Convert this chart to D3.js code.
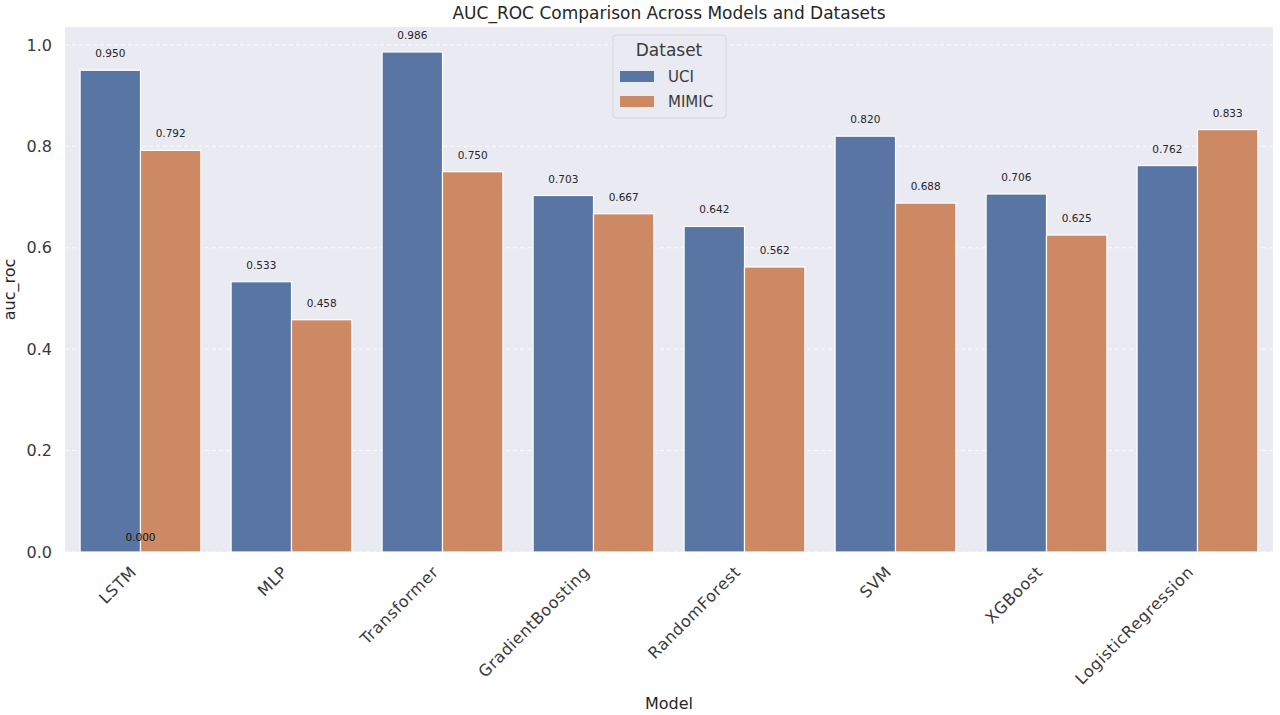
<!DOCTYPE html>
<html><head><meta charset="utf-8">
<script src="https://cdn.jsdelivr.net/npm/d3@7"></script>
<style>body{margin:0;background:#fff;font-family:"DejaVu Sans",sans-serif;}</style>
</head><body><svg id="c" width="1280" height="715"></svg>
<script>
const models = ["LSTM","MLP","Transformer","GradientBoosting","RandomForest","SVM","XGBoost","LogisticRegression"];
const datasets = ["UCI","MIMIC"];
const uciValues = [0.950,0.533,0.986,0.703,0.642,0.820,0.706,0.762];
const mimicValues = [0.792,0.458,0.750,0.667,0.562,0.688,0.625,0.833];
const yTicks = [0.0,0.2,0.4,0.6,0.8,1.0];
const strayLabels = [{model:"LSTM", value:0.000}];
const colors = ["#5975a4","#cc8963"];

const svg = d3.select("#c");
const m = {l:65, r:1273, t:27, b:552};
const x = d3.scaleBand().domain(models).range([m.l,m.r]).paddingInner(0).paddingOuter(0);
const xs = d3.scaleBand().domain(datasets).range([0,x.bandwidth()*0.8]);
const ymax = d3.max(uciValues.concat(mimicValues))*1.05;
const y = d3.scaleLinear().domain([0,ymax]).range([m.b,m.t]);

svg.append("rect").attr("x",m.l).attr("y",m.t).attr("width",m.r-m.l).attr("height",m.b-m.t).attr("fill","#eaeaf2");

// grid
svg.append("g").selectAll("line").data(yTicks).join("line")
  .attr("x1",m.l).attr("x2",m.r).attr("y1",d=>y(d)).attr("y2",d=>y(d))
  .attr("stroke","#ffffff").attr("stroke-width",1).attr("stroke-dasharray","4,3").attr("opacity",0.8);

// y axis
const yAxis = d3.axisLeft(y).tickValues(yTicks).tickFormat(d3.format(".1f")).tickSize(0).tickPadding(13);
const gy = svg.append("g").attr("transform",`translate(${m.l},0)`).call(yAxis);
gy.select(".domain").remove();
gy.selectAll("text").attr("font-size",16).attr("fill","#3a3a3a").attr("font-family","DejaVu Sans");

// x axis
const xAxis = d3.axisBottom(x).tickSize(0).tickPadding(0);
const gx = svg.append("g").attr("transform",`translate(0,${m.b})`).call(xAxis);
gx.select(".domain").remove();
gx.selectAll("text").attr("font-size",16).attr("fill","#3a3a3a").attr("font-family","DejaVu Sans")
  .attr("text-anchor","end").attr("dy",null).attr("y",0).attr("letter-spacing",0.6)
  .attr("transform","translate(-3,21) rotate(-45)");

// bars
const series = [uciValues, mimicValues];
const rows = [];
models.forEach((mod,i)=>datasets.forEach((ds,j)=>rows.push({mod,ds,j,v:series[j][i]})));
const barG = svg.append("g");
barG.selectAll("rect").data(rows).join("rect")
  .attr("x",d=>x(d.mod)+x.bandwidth()*0.1+xs(d.ds))
  .attr("y",d=>y(d.v))
  .attr("width",xs.bandwidth())
  .attr("height",d=>y(0)-y(d.v))
  .attr("fill",d=>colors[d.j])
  .attr("stroke","#ffffff").attr("stroke-width",1.2);

// value labels
svg.append("g").selectAll("text").data(rows).join("text")
  .attr("x",d=>x(d.mod)+x.bandwidth()*0.1+xs(d.ds)+xs.bandwidth()/2)
  .attr("y",d=>y(d.v)-13)
  .attr("text-anchor","middle").attr("font-size",10.5).attr("fill","#262626")
  .text(d=>d3.format(".3f")(d.v));
svg.append("g").selectAll("text").data(strayLabels).join("text")
  .attr("x",d=>x(d.model)+x.bandwidth()/2)
  .attr("y",d=>y(d.value)-11)
  .attr("text-anchor","middle").attr("font-size",10.5).attr("fill","#111")
  .text(d=>d3.format(".3f")(d.value));

// title & axis labels
svg.append("text").attr("x",(m.l+m.r)/2).attr("y",19).attr("text-anchor","middle")
  .attr("font-size",17).attr("fill","#262626").text("AUC_ROC Comparison Across Models and Datasets");
svg.append("text").attr("x",(m.l+m.r)/2).attr("y",709).attr("text-anchor","middle")
  .attr("font-size",16).attr("fill","#262626").text("Model");
svg.append("text").attr("transform",`translate(15,${(m.t+m.b)/2}) rotate(-90)`).attr("text-anchor","middle")
  .attr("font-size",16).attr("fill","#262626").text("auc_roc");

// legend
const lg = svg.append("g").attr("transform","translate(613,35)");
lg.append("rect").attr("width",113).attr("height",83).attr("rx",3).attr("fill","#eaeaf2").attr("stroke","#d6d6de").attr("stroke-width",1);
lg.append("text").attr("x",56).attr("y",21).attr("text-anchor","middle").attr("font-size",17).attr("fill","#3a3a3a").text("Dataset");
datasets.forEach((ds,j)=>{
  const gy0 = 41 + j*25;
  lg.append("rect").attr("x",7).attr("y",gy0-5).attr("width",34).attr("height",11).attr("fill",colors[j]);
  lg.append("text").attr("x",55).attr("y",gy0+5.5).attr("font-size",15).attr("fill","#3a3a3a").text(ds);
});
</script></body></html>
